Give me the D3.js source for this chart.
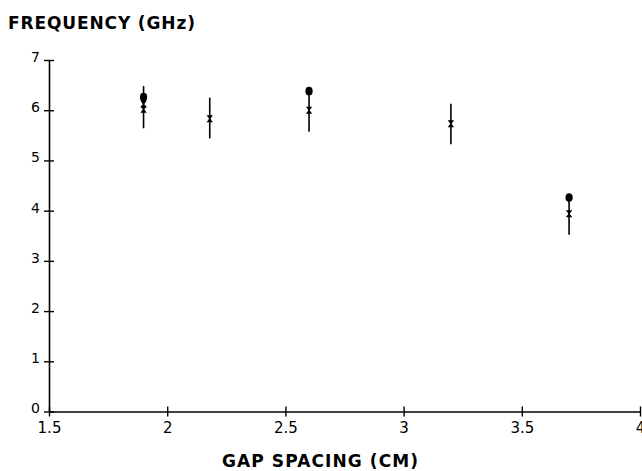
<!DOCTYPE html>
<html>
<head>
<meta charset="utf-8">
<script src="https://cdn.jsdelivr.net/npm/d3@7"></script>
<style>
  body { margin: 0; background: #fff; }
  svg text { font-family: "DejaVu Sans", sans-serif; fill: #000; }
</style>
</head>
<body>
<div id="chart"></div>
<script>
// measured points (x markers) with error bars
var measGap  = [1.9, 1.9, 2.18, 2.6, 3.2, 3.7];
var measFreq = [6.12, 6.02, 5.83, 6.0, 5.73, 3.94];
var barGap   = [1.9, 2.18, 2.6, 3.2, 3.7];
var barLow   = [5.64, 5.44, 5.57, 5.32, 3.52];
var barHigh  = [6.48, 6.25, 6.4, 6.13, 4.28];
// calculated points (filled dots)
var calcGap  = [1.9, 2.6, 3.7];
var calcFreq = [6.26, 6.38, 4.26];

var xTicks = [1.5, 2, 2.5, 3, 3.5, 4];
var yTicks = [0, 1, 2, 3, 4, 5, 6, 7];

var W = 642, H = 471;
var svg = d3.select("#chart").append("svg")
	.attr("width", W)
	.attr("height", H);

var x = d3.scaleLinear().domain([1.5, 4]).range([49, 640]);
var y = d3.scaleLinear().domain([0, 7]).range([411.5, 60]);

// x axis
var gx = svg.append("g")
	.attr("transform", "translate(0," + y(0) + ")")
	.call(d3.axisBottom(x).tickValues(xTicks).tickSizeOuter(0)
		.tickFormat(function(d){ return String(d); }));
gx.select(".domain").attr("stroke-width", 1.6);
gx.selectAll(".tick line").attr("y1", -5).attr("y2", 5).attr("stroke-width", 1.4);
gx.selectAll(".tick text")
	.attr("y", 11)
	.attr("font-size", 15)
	.style("font-family", "'DejaVu Sans', sans-serif");

// y axis
var gy = svg.append("g")
	.attr("transform", "translate(" + x(1.5) + ",0)")
	.call(d3.axisLeft(y).tickValues(yTicks).tickSizeOuter(0).tickFormat(d3.format("d")));
gy.select(".domain").attr("stroke-width", 1.6);
gy.selectAll(".tick line").attr("x1", -5).attr("x2", 5).attr("stroke-width", 1.4);
gy.selectAll(".tick text")
	.attr("x", -9)
	.attr("dy", "0.1em")
	.attr("font-size", 14)
	.style("font-family", "'DejaVu Sans', sans-serif");

// error bars
svg.append("g").selectAll("line")
	.data(barGap)
	.enter().append("line")
		.attr("x1", function(d){ return x(d); })
		.attr("x2", function(d){ return x(d); })
		.attr("y1", function(d, i){ return y(barHigh[i]); })
		.attr("y2", function(d, i){ return y(barLow[i]); })
		.attr("stroke", "#000")
		.attr("stroke-width", 1.6);

// hourglass "x" markers
var hg = "M-3.2,-3.5 L3.2,-3.5 L0.6,0 L3.2,3.5 L-3.2,3.5 L-0.6,0 Z";
svg.append("g").selectAll("path")
	.data(measGap)
	.enter().append("path")
		.attr("d", hg)
		.attr("transform", function(d, i){ return "translate(" + x(d) + "," + y(measFreq[i]) + ")"; })
		.attr("fill", "#000");

// filled dots
svg.append("g").selectAll("ellipse")
	.data(calcGap)
	.enter().append("ellipse")
		.attr("cx", function(d){ return x(d); })
		.attr("cy", function(d, i){ return y(calcFreq[i]); })
		.attr("rx", 3.6)
		.attr("ry", 4.4)
		.attr("fill", "#000");

// titles
svg.append("text")
	.attr("x", 8)
	.attr("y", 29)
	.attr("font-size", 17)
	.attr("font-weight", "bold")
	.attr("textLength", 187)
	.text("FREQUENCY (GHz)");

svg.append("text")
	.attr("x", 222)
	.attr("y", 467)
	.attr("font-size", 17)
	.attr("font-weight", "bold")
	.attr("textLength", 196)
	.text("GAP SPACING (CM)");
</script>
</body>
</html>
